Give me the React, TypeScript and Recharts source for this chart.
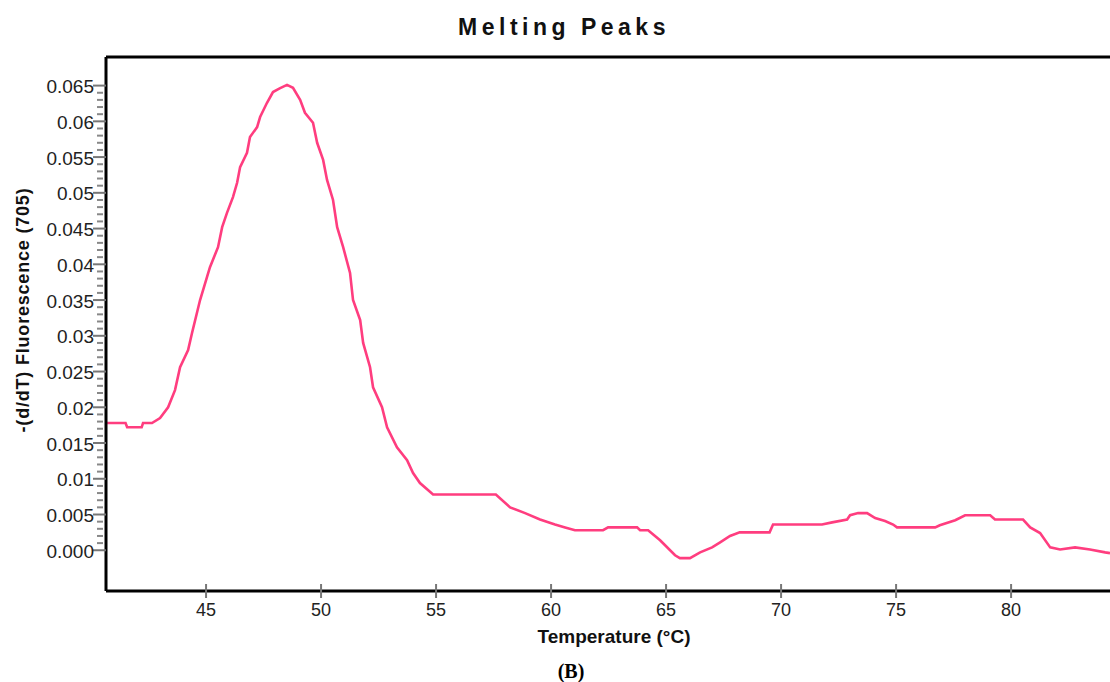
import { LineChart, Line, XAxis, YAxis, ReferenceLine } from "recharts";

const temperature = [
  40.7, 41.5, 41.57, 42.2, 42.26, 42.65, 43.0, 43.35, 43.65, 43.87, 44.22,
  44.39, 44.74, 45.04, 45.17, 45.52, 45.7, 45.91, 46.17, 46.35, 46.48, 46.78,
  46.91, 47.22, 47.35, 47.65, 47.91, 48.2, 48.52, 48.78, 49.09, 49.3, 49.65,
  49.83, 50.09, 50.26, 50.52, 50.7, 50.96, 51.26, 51.39, 51.7, 51.83, 52.13,
  52.26, 52.65, 52.87, 53.3, 53.74, 54.0, 54.3, 54.87, 57.6, 58.22, 58.87,
  59.52, 60.17, 60.61, 61.04, 62.26, 62.48, 63.74, 63.87, 64.22, 64.74, 65.39,
  65.6, 66.04, 66.48, 67.0, 67.35, 67.78, 68.2, 69.5, 69.65, 71.78, 72.22,
  72.87, 73.0, 73.35, 73.74, 74.09, 74.52, 74.87, 75.04, 76.7, 76.9, 77.57,
  78.0, 79.09, 79.3, 80.52, 80.83, 81.26, 81.7, 82.13, 82.78, 83.43, 84.09,
  84.3,
];

const fluorescence = [
  0.0178, 0.0178, 0.0172, 0.0172, 0.0178, 0.0178, 0.0185, 0.02, 0.0224,
  0.0256, 0.028, 0.0304, 0.035, 0.0382, 0.0396, 0.0424, 0.0452, 0.0472,
  0.0494, 0.0514, 0.0536, 0.0556, 0.0578, 0.0592, 0.0606, 0.0626, 0.0641,
  0.0646, 0.0651, 0.0647, 0.063, 0.0612, 0.0598, 0.057, 0.0546, 0.0518,
  0.049, 0.0452, 0.0424, 0.0388, 0.035, 0.0322, 0.029, 0.0256, 0.0228, 0.02,
  0.0172, 0.0144, 0.0126, 0.0108, 0.0094, 0.0078, 0.0078, 0.006, 0.0052,
  0.0043, 0.0036, 0.0032, 0.0028, 0.0028, 0.0032, 0.0032, 0.0028, 0.0028,
  0.0014, -0.0007, -0.0011, -0.0011, -0.0003, 0.0004, 0.0011, 0.002, 0.0025,
  0.0025, 0.0036, 0.0036, 0.0039, 0.0043, 0.0049, 0.0052, 0.0052, 0.0045,
  0.0041, 0.0036, 0.0032, 0.0032, 0.0035, 0.0042, 0.0049, 0.0049, 0.0043,
  0.0043, 0.0032, 0.0024, 0.0004, 0.0001, 0.0004, 0.0001, -0.0003, -0.0004,
];

const xTicks = [45, 50, 55, 60, 65, 70, 75, 80];
const yTicks: number[] = [];
for (let i = 0; i <= 65; i++) yTicks.push(i / 1000);

const data = temperature.map((t, i) => ({ t, v: fluorescence[i] }));

const font = '"Liberation Sans", Arial, sans-serif';

function XTick(props: any) {
  const { x, y, payload } = props;
  return (
    <g>
      <line x1={x} x2={x} y1={y - 7} y2={y + 7} stroke="#777" strokeWidth={2} />
      <text x={x} y={y + 25} textAnchor="middle" fontSize={18} fill="#222" fontFamily={font}>
        {payload.value}
      </text>
    </g>
  );
}

function YTick(props: any) {
  const { x, y, payload } = props;
  const v = payload.value;
  const major = Math.round(v * 1000) % 5 === 0;
  const label = v === 0 ? "0.000" : String(+v.toFixed(3));
  return (
    <g>
      {major ? (
        <>
          <line x1={x - 13} x2={x} y1={y} y2={y} stroke="#777" strokeWidth={2} />
          <text x={x - 12} y={y} dy="0.4em" textAnchor="end" fontSize={19} fill="#222" fontFamily={font}>
            {label}
          </text>
        </>
      ) : (
        <line x1={x - 9} x2={x - 3} y1={y} y2={y} stroke="#888" strokeWidth={2} />
      )}
    </g>
  );
}

export default function App() {
  return (
    <div
      style={{
        position: "absolute",
        left: 0,
        top: 0,
        width: 1110,
        height: 682,
        overflow: "hidden",
        background: "#fff",
        fontFamily: font,
      }}
    >
      <LineChart width={1110} height={682} data={data} margin={{ top: 57, right: 0, bottom: 0, left: 0 }}>
        <XAxis
          dataKey="t"
          type="number"
          domain={[40.65, 84.3]}
          ticks={xTicks}
          interval={0}
          allowDataOverflow
          height={91}
          axisLine={{ stroke: "#000", strokeWidth: 3 }}
          tickLine={false}
          tickSize={0}
          tickMargin={0}
          tick={<XTick />}
        />
        <YAxis
          type="number"
          domain={[-0.0057, 0.069]}
          ticks={yTicks}
          interval={0}
          allowDataOverflow
          width={106}
          axisLine={{ stroke: "#000", strokeWidth: 3 }}
          tickLine={false}
          tickSize={0}
          tickMargin={0}
          tick={<YTick />}
        />
        <ReferenceLine y={0.069} stroke="#000" strokeWidth={3} />
        <Line
          type="linear"
          dataKey="v"
          stroke="#ff3d7f"
          strokeWidth={2.6}
          dot={false}
          isAnimationActive={false}
        />
      </LineChart>
      <div
        style={{
          position: "absolute",
          left: 564,
          top: 27,
          transform: "translate(-50%, -50%)",
          whiteSpace: "nowrap",
          fontSize: 23,
          fontWeight: "bold",
          letterSpacing: 4.5,
          color: "#111",
        }}
      >
        Melting Peaks
      </div>
      <div
        style={{
          position: "absolute",
          left: 23,
          top: 310,
          transform: "translate(-50%, -50%) rotate(-90deg)",
          whiteSpace: "nowrap",
          fontSize: 18,
          fontWeight: "bold",
          letterSpacing: 0.8,
          color: "#111",
        }}
      >
        -(d/dT) Fluorescence (705)
      </div>
      <div
        style={{
          position: "absolute",
          left: 614,
          top: 637,
          transform: "translate(-50%, -50%)",
          whiteSpace: "nowrap",
          fontSize: 19,
          fontWeight: "bold",
          color: "#111",
        }}
      >
        Temperature (°C)
      </div>
      <div
        style={{
          position: "absolute",
          left: 571,
          top: 671,
          transform: "translate(-50%, -50%)",
          whiteSpace: "nowrap",
          fontSize: 20,
          fontWeight: "bold",
          fontFamily: '"Liberation Serif", "Times New Roman", serif',
          color: "#000",
        }}
      >
        (B)
      </div>
    </div>
  );
}
